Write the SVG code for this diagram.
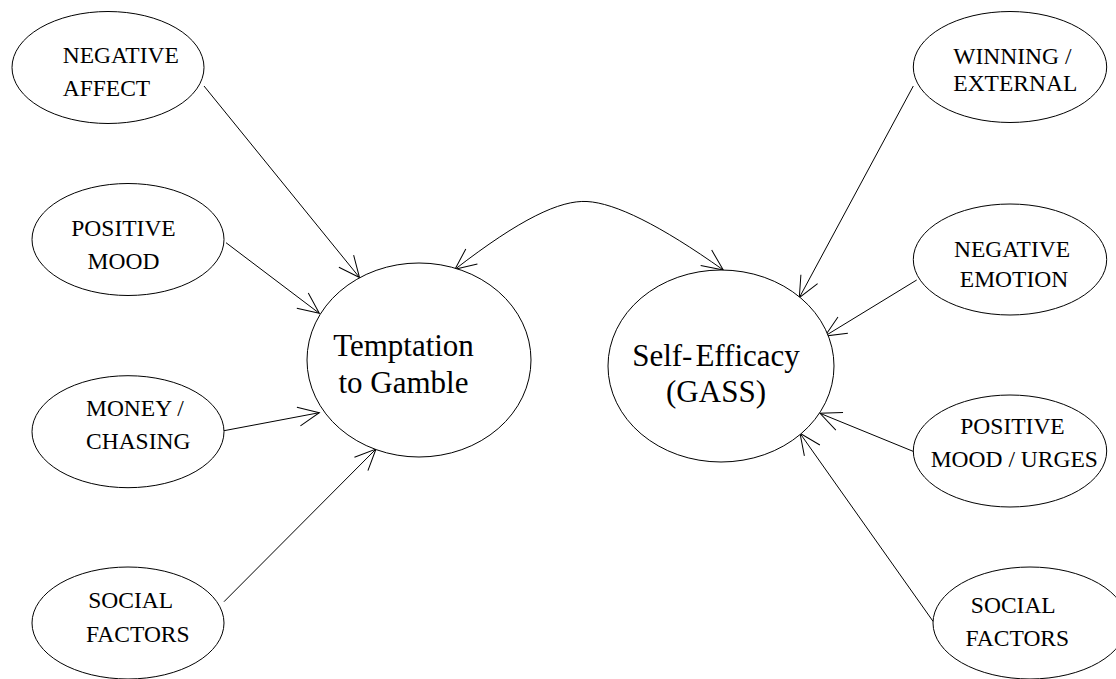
<svg xmlns="http://www.w3.org/2000/svg" width="1116" height="679" viewBox="0 0 1116 679">
<defs>
<marker id="arr" markerUnits="userSpaceOnUse" orient="auto-start-reverse" refX="0" refY="0" markerWidth="30" markerHeight="30" viewBox="-25 -15 30 30" overflow="visible">
<path d="M-21,-9.5 L0,0 L-21,9.5" fill="none" stroke="#000" stroke-width="1"/>
</marker>
</defs>
<style>
.n{fill:#fff;stroke:#000;stroke-width:1}
.s{font-family:"Liberation Serif","Times New Roman",serif;font-size:23.5px;fill:#000}
.b{font-family:"Liberation Serif","Times New Roman",serif;font-size:31px;fill:#000}
.c{fill:none;stroke:#000;stroke-width:1;marker-end:url(#arr)}
</style>
<rect width="1116" height="679" fill="#fff"/>
<g id="connectors">
<path class="c" d="M204,86 L359.5,277.5"/>
<path class="c" d="M226,242.7 L319.3,313.3"/>
<path class="c" d="M224,430.7 L319.3,412.7"/>
<path class="c" d="M224,601.7 L376,449"/>
<path class="c" d="M913.3,86 L799.3,297.7"/>
<path class="c" d="M916.7,280 L825,336"/>
<path class="c" d="M914,451.7 L820,413.3"/>
<path class="c" d="M933.3,621.7 L800,433.3"/>
<path class="c" style="marker-start:url(#arr)" d="M455,269.3 C520,219 560,200 587,201.5 C615,203 660,225 723.3,270"/>
</g>
<g id="temptation">
<ellipse class="n" cx="419" cy="360" rx="112" ry="97"/>
<text class="b" x="403.5" y="355.5" text-anchor="middle">Temptation</text>
<text class="b" x="403.5" y="393" text-anchor="middle">to Gamble</text>
</g>
<g id="selfefficacy">
<ellipse class="n" cx="721" cy="366" rx="113" ry="96"/>
<text class="b" x="716" y="366" text-anchor="middle">Self-<tspan dx="3">Efficacy</tspan></text>
<text class="b" x="716" y="402" text-anchor="middle">(GASS)</text>
</g>
<g id="negative-affect">
<ellipse class="n" cx="108" cy="67.5" rx="96" ry="56"/>
<text class="s" x="62.7" y="62.5">NEGATIVE</text>
<text class="s" x="62.7" y="95.5">AFFECT</text>
</g>
<g id="positive-mood">
<ellipse class="n" cx="128" cy="239.5" rx="96" ry="56"/>
<text class="s" x="123.5" y="236" text-anchor="middle">POSITIVE</text>
<text class="s" x="123.5" y="269.3" text-anchor="middle">MOOD</text>
</g>
<g id="money-chasing">
<ellipse class="n" cx="128" cy="431.7" rx="96" ry="56"/>
<text class="s" x="86" y="416">MONEY /</text>
<text class="s" x="86" y="449.3">CHASING</text>
</g>
<g id="social-left">
<ellipse class="n" cx="128" cy="623" rx="96" ry="56"/>
<text class="s" x="88.3" y="608.3">SOCIAL</text>
<text class="s" x="86" y="642.3">FACTORS</text>
</g>
<g id="winning-external">
<ellipse class="n" cx="1010" cy="67" rx="96.7" ry="55.5"/>
<text class="s" x="953.3" y="63.5">WINNING /</text>
<text class="s" x="953.3" y="91">EXTERNAL</text>
</g>
<g id="negative-emotion">
<ellipse class="n" cx="1010" cy="259.5" rx="96.7" ry="55.5"/>
<text class="s" x="1012" y="256.7" text-anchor="middle">NEGATIVE</text>
<text class="s" x="1014" y="287.3" text-anchor="middle">EMOTION</text>
</g>
<g id="positive-mood-urges">
<ellipse class="n" cx="1010" cy="451" rx="96.7" ry="56"/>
<text class="s" x="1012.5" y="434" text-anchor="middle">POSITIVE</text>
<text class="s" x="1014.3" y="466.7" text-anchor="middle">MOOD / URGES</text>
</g>
<g id="social-right">
<ellipse class="n" cx="1030" cy="623" rx="97" ry="56"/>
<text class="s" x="1013.3" y="613.3" text-anchor="middle">SOCIAL</text>
<text class="s" x="1017.3" y="646" text-anchor="middle">FACTORS</text>
</g>
</svg>
